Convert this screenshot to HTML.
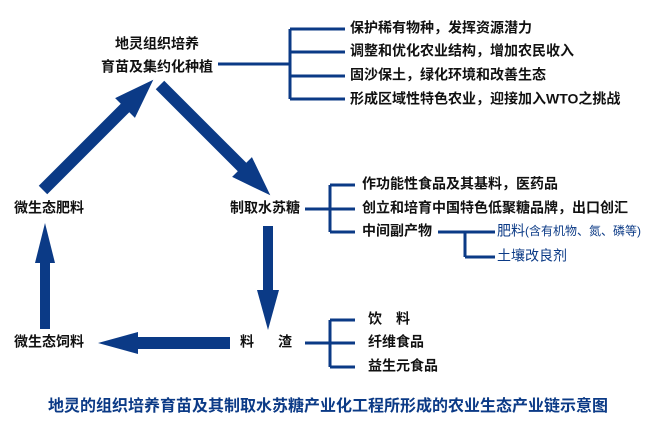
<!DOCTYPE html>
<html><head><meta charset="utf-8"><style>
html,body{margin:0;padding:0;background:#fff;}
svg text{font-family:"Liberation Sans","Noto Sans CJK SC",sans-serif;font-size:14px;font-weight:bold;fill:#111;dominant-baseline:middle;}
svg text.b{fill:#0b3a86;font-weight:normal;}
</style></head><body>
<svg width="645" height="424" viewBox="0 0 645 424" xmlns="http://www.w3.org/2000/svg">
<g fill="#0b3a86">
<g transform="translate(43,190) rotate(-45)"><polygon points="0,-6 116,-6 116,-14 156,0 116,14 116,6 0,6"/></g>
<g transform="translate(160,85) rotate(45)"><polygon points="0,-6 116,-6 116,-14 156,0 116,14 116,6 0,6"/></g>
<g transform="translate(268,226) rotate(90)"><polygon points="0,-5 64,-5 64,-11 104,0 64,11 64,5 0,5"/></g>
<g transform="translate(230,343) rotate(180)"><polygon points="0,-6 92,-6 92,-11 132,0 92,11 92,6 0,6"/></g>
<g transform="translate(45,329) rotate(-90)"><polygon points="0,-5 66,-5 66,-10 106,0 66,10 66,5 0,5"/></g>
</g>
<g stroke="#0b3a86" stroke-width="3" fill="none">
<path d="M218,64H290M290,29V99M290,29H345M290,52H345M290,76H345M290,99H345"/>
<path d="M305,209H330M330,185V232M330,185H355M330,209H355M330,232H355"/>
<path d="M438,232H465M465,232V257M465,232H495M465,257H495"/>
<path d="M305,343H330M330,320V367M330,320H355M330,343H355M330,367H355"/>
</g>
<text x="157" y="45" text-anchor="middle">地灵组织培养</text>
<text x="157" y="68" text-anchor="middle">育苗及集约化种植</text>
<text x="350" y="29">保护稀有物种，发挥资源潜力</text>
<text x="350" y="52">调整和优化农业结构，增加农民收入</text>
<text x="350" y="76">固沙保土，绿化环境和改善生态</text>
<text x="350" y="100">形成区域性特色农业，迎接加入WTO之挑战</text>
<text x="14" y="209">微生态肥料</text>
<text x="230" y="209">制取水苏糖</text>
<text x="362" y="185">作功能性食品及其基料，医药品</text>
<text x="362" y="209">创立和培育中国特色低聚糖品牌，出口创汇</text>
<text x="362" y="232">中间副产物</text>
<text class="b" x="497" y="232">肥料<tspan font-size="12">(含有机物、氮、磷等)</tspan></text>
<text class="b" x="497" y="257">土壤改良剂</text>
<text x="14" y="343">微生态饲料</text>
<text x="240" y="343">料</text>
<text x="278" y="343">渣</text>
<text x="368" y="320">饮　料</text>
<text x="368" y="343">纤维食品</text>
<text x="368" y="367">益生元食品</text>
<text x="328" y="407" text-anchor="middle" style="fill:#0b3a86;font-size:16px;">地灵的组织培养育苗及其制取水苏糖产业化工程所形成的农业生态产业链示意图</text>
</svg>
</body></html>
